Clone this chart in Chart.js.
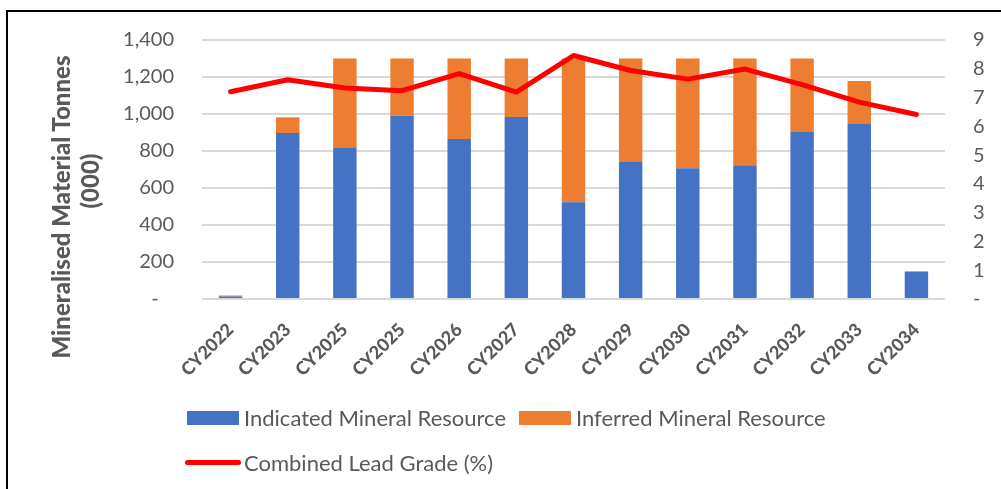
<!DOCTYPE html>
<html>
<head>
<meta charset="utf-8">
<script src="https://cdn.jsdelivr.net/npm/chart.js@4.4.1/dist/chart.umd.min.js"></script>
<style>
  body { margin: 0; background: #fff; }
  #wrap { position: relative; width: 1001px; height: 489px; overflow: hidden; font-family: Lato, 'Noto Sans', sans-serif; color: #595959; }
  #frame { position: absolute; left: 6px; top: 10px; width: 1100px; height: 600px; border-top: 2px solid #000; border-left: 2px solid #000; }
  .ytitle { position: absolute; white-space: nowrap; font-weight: 900; font-size: 24px; transform: translate(-50%, -50%) rotate(-90deg); }
  .lg-text { position: absolute; font-size: 22px; line-height: 24px; white-space: nowrap; }
  .lg-box { position: absolute; }
</style>
</head>
<body>
<div id="wrap">
  <div id="frame"></div>
  <canvas id="chart" width="1001" height="489"></canvas>
  <div class="ytitle" style="left:60px; top:207px;">Mineralised Material Tonnes</div>
  <div class="ytitle" style="left:89px; top:181px;">(000)</div>
  <div id="legend"></div>
</div>
<script>
// chart data
const categories = ['CY2022', 'CY2023', 'CY2025', 'CY2025', 'CY2026', 'CY2027', 'CY2028', 'CY2029', 'CY2030', 'CY2031', 'CY2032', 'CY2033', 'CY2034'];
const indicated = [14, 897, 816, 991, 865, 984, 523, 741, 707, 723, 903, 946, 149];
const inferred = [5, 85, 484, 309, 435, 316, 777, 559, 593, 577, 397, 232, 0];
const leadGrade = [7.2, 7.62, 7.33, 7.24, 7.83, 7.19, 8.46, 7.94, 7.64, 7.99, 7.45, 6.84, 6.41];
const seriesNames = ['Indicated Mineral Resource', 'Inferred Mineral Resource', 'Combined Lead Grade (%)'];
const colors = ['#4472C4', '#ED7D31', '#FF0000'];

const textGrey = '#595959';

const context = document.getElementById('chart').getContext('2d');
new Chart(context, {
  type: 'bar',
  data: {
    labels: categories,
    datasets: [
      {
        type: 'line',
        label: seriesNames[2],
        data: leadGrade,
        yAxisID: 'y1',
        borderColor: colors[2],
        borderWidth: 5,
        borderCapStyle: 'round',
        borderJoinStyle: 'round',
        pointRadius: 0,
        tension: 0,
        order: 0,
      },
      {
        label: seriesNames[0],
        data: indicated,
        backgroundColor: colors[0],
        stack: 'tonnes',
        barPercentage: 0.41,
        categoryPercentage: 1,
        order: 1,
      },
      {
        label: seriesNames[1],
        data: inferred,
        backgroundColor: colors[1],
        stack: 'tonnes',
        barPercentage: 0.41,
        categoryPercentage: 1,
        order: 1,
      },
    ],
  },
  options: {
    responsive: false,
    animation: false,
    layout: { padding: { top: 39, left: 0, right: 0, bottom: 0 } },
    plugins: {
      legend: { display: false },
      tooltip: { enabled: false },
    },
    scales: {
      x: {
        stacked: true,
        grid: { display: false },
        border: { display: false },
        ticks: {
          color: textGrey,
          font: { family: 'Lato', size: 18, weight: '900' },
          maxRotation: 45,
          minRotation: 45,
          padding: 12,
        },
        afterFit: (scale) => { scale.height = 190; },
      },
      y: {
        stacked: true,
        min: 0,
        max: 1400,
        border: { display: false },
        grid: { color: '#d9d9d9', lineWidth: 2, drawTicks: false },
        ticks: {
          stepSize: 200,
          color: textGrey,
          padding: 28,
          font: { family: 'Lato', size: 20 },
          callback: (v) => (v === 0 ? '-   ' : v.toLocaleString('en-US')),
        },
        afterFit: (scale) => { scale.width = 202; },
      },
      y1: {
        position: 'right',
        min: 0,
        max: 9,
        border: { display: false },
        grid: { display: false, drawTicks: false },
        ticks: {
          stepSize: 1,
          color: textGrey,
          padding: 28,
          font: { family: 'Lato', size: 20 },
          callback: (v) => (v === 0 ? '-' : v),
        },
        afterFit: (scale) => { scale.width = 56; },
      },
    },
  },
});

// legend built from the series names
const legend = document.getElementById('legend');
const legendItems = [
  { kind: 'box', color: colors[0], text: seriesNames[0], x: 187, y: 418 },
  { kind: 'box', color: colors[1], text: seriesNames[1], x: 519, y: 418 },
  { kind: 'line', color: colors[2], text: seriesNames[2], x: 185, y: 463 },
];
legendItems.forEach((item) => {
  const mark = document.createElement('div');
  mark.className = 'lg-box';
  if (item.kind == 'box') {
    mark.style.cssText = `left:${item.x}px; top:${item.y - 7}px; width:52px; height:14px; background:${item.color};`;
  } else {
    mark.style.cssText = `left:${item.x}px; top:${item.y - 3}px; width:56px; height:5px; border-radius:3px; background:${item.color};`;
  }
  legend.appendChild(mark);
  const label = document.createElement('div');
  label.className = 'lg-text';
  label.textContent = item.text;
  label.style.left = item.x + (item.kind == 'box' ? 57 : 59) + 'px';
  label.style.top = item.y - 12 + 'px';
  legend.appendChild(label);
});
</script>
</body>
</html>
